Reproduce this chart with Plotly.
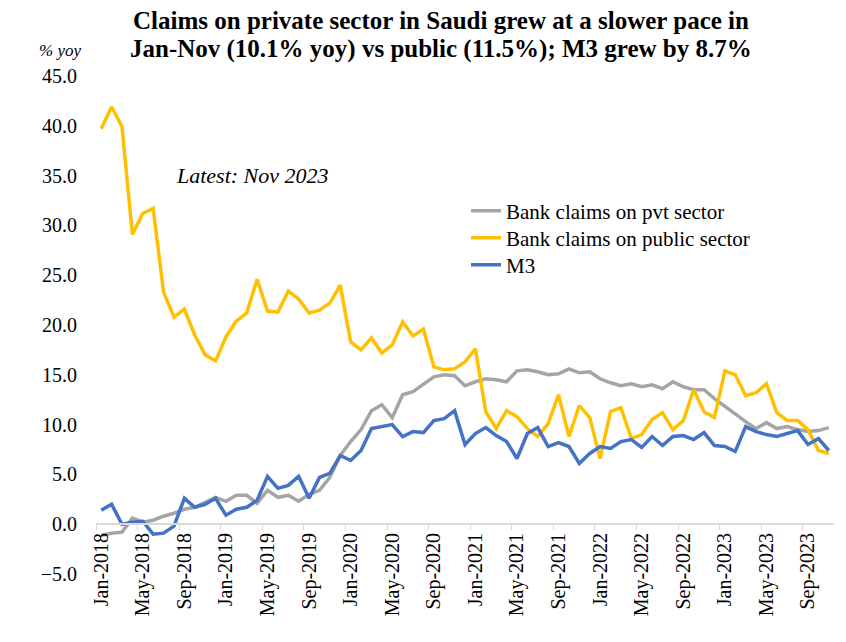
import plotly.graph_objects as go

months = ["Jan", "Feb", "Mar", "Apr", "May", "Jun", "Jul", "Aug", "Sep", "Oct", "Nov", "Dec"]
categories = [f"{m}-{y}" for y in range(2018, 2024) for m in months][:71]

pvt_sector = [
    -1.1, -0.9, -0.8, 0.6, 0.2, 0.4, 0.8, 1.1, 1.5, 1.7, 2.2, 2.7,
    2.3, 2.9, 2.9, 2.1, 3.4, 2.7, 2.9, 2.3, 3.0, 3.4, 4.7, 6.9,
    8.3, 9.5, 11.4, 12.0, 10.7, 13.0, 13.3, 14.1, 14.8, 15.0, 14.9, 13.9,
    14.3, 14.6, 14.5, 14.3, 15.4, 15.5, 15.3, 15.0, 15.1, 15.6, 15.2, 15.3,
    14.6, 14.2, 13.9, 14.1, 13.8, 14.0, 13.6, 14.3, 13.8, 13.5, 13.5, 12.6,
    11.8, 11.0, 10.3, 9.6, 10.2, 9.6, 9.8, 9.5, 9.3, 9.4, 9.7,
]
public_sector = [
    39.7, 41.9, 39.9, 29.1, 31.2, 31.7, 23.3, 20.8, 21.6, 19.0, 17.0, 16.4,
    18.8, 20.4, 21.2, 24.6, 21.4, 21.3, 23.4, 22.6, 21.2, 21.5, 22.2, 24.0,
    18.3, 17.5, 18.7, 17.2, 18.0, 20.3, 18.9, 19.6, 15.8, 15.5, 15.6, 16.3,
    17.6, 11.3, 9.6, 11.4, 10.8, 9.6, 8.8, 10.1, 13.0, 8.8, 11.9, 10.7,
    6.6, 11.3, 11.7, 8.6, 9.0, 10.5, 11.2, 9.5, 10.4, 13.5, 11.3, 10.7,
    15.4, 15.0, 12.9, 13.2, 14.1, 11.2, 10.4, 10.4, 9.5, 7.4, 7.1,
]
m3 = [
    1.4, 2.0, 0.0, 0.2, 0.3, -1.0, -0.9, -0.2, 2.6, 1.7, 2.0, 2.6,
    0.9, 1.5, 1.7, 2.4, 4.8, 3.6, 3.9, 4.8, 2.6, 4.7, 5.1, 6.9,
    6.4, 7.4, 9.6, 9.8, 10.0, 8.8, 9.3, 9.2, 10.4, 10.6, 11.4, 8.0,
    9.1, 9.7, 8.9, 8.3, 6.6, 9.1, 9.7, 7.8, 8.2, 7.8, 6.1, 7.1,
    7.8, 7.6, 8.3, 8.5, 7.7, 8.8, 7.9, 8.8, 8.9, 8.5, 9.2, 7.9,
    7.8, 7.3, 9.8, 9.3, 9.0, 8.8, 9.1, 9.4, 8.0, 8.6, 7.4,
]

series = [
    ("Bank claims on pvt sector", pvt_sector, "#A5A5A5"),
    ("Bank claims on public sector", public_sector, "#FFC000"),
    ("M3", m3, "#4472C4"),
]

title_lines = [
    "Claims on private sector in Saudi grew at a slower pace in",
    "Jan-Nov (10.1% yoy) vs public (11.5%); M3 grew by 8.7%",
]

# screen geometry (page body has an 8px default margin)
OFF = 8
SW, SH = 846, 642
W, H = SW - OFF, SH - OFF
PL, PR, PT, PB = 96, 834, 76, 574          # plot area in screenshot pixels
ML, MR = PL - OFF, W - (PR - OFF)
MT, MB = PT - OFF, H - (PB - OFF)
PW, PH = PR - PL, PB - PT


def px_x(p):
    return (p - PL) / PW


def px_y(p):
    return (PB - p) / PH


SERIF = "Liberation Serif, Times New Roman, serif"
legend_ids = ["legend", "legend2", "legend3"]
legend_rows = [211, 238, 265]

fig = go.Figure()
for (name, vals, color), lid in zip(series, legend_ids):
    fig.add_trace(go.Scatter(
        x=categories, y=vals, name=name, mode="lines",
        line=dict(color=color, width=3.5), legend=lid,
    ))

annotations = [
    dict(text=f"<b>{t}</b>", xref="paper", yref="paper",
         x=px_x(441), y=px_y(yc), xanchor="center", yanchor="middle",
         showarrow=False, font=dict(family=SERIF, size=25, color="black"))
    for t, yc in zip(title_lines, [21, 49])
]
annotations += [
    dict(text="<i>% yoy</i>", xref="paper", yref="paper",
         x=px_x(37), y=px_y(50), xanchor="left", yanchor="middle",
         showarrow=False, font=dict(family=SERIF, size=17)),
    dict(text="<i>Latest: Nov 2023</i>", xref="paper", yref="paper",
         x=px_x(252), y=px_y(175), xanchor="center", yanchor="middle",
         showarrow=False, font=dict(family=SERIF, size=22)),
]

legend_layout = {
    lid: dict(
        x=px_x(466), y=px_y(row), xanchor="left", yanchor="middle",
        font=dict(family=SERIF, size=21), bgcolor="rgba(0,0,0,0)",
    )
    for lid, row in zip(legend_ids, legend_rows)
}

fig.update_layout(
    width=W, height=H,
    margin=dict(l=ML, r=MR, t=MT, b=MB, autoexpand=False),
    paper_bgcolor="white", plot_bgcolor="white",
    font=dict(family=SERIF, color="black", size=18),
    showlegend=True,
    xaxis=dict(
        type="category", range=[-0.5, 70.5],
        tickmode="linear", tick0=0, dtick=4, tickangle=-90,
        tickson="boundaries",
        ticks="outside", ticklen=5, tickcolor="#D9D9D9",
        showline=True, linecolor="#D9D9D9", linewidth=1.5,
        showgrid=False, zeroline=False,
        anchor="free", position=0.1, automargin=False,
        tickfont=dict(family=SERIF, size=20),
    ),
    yaxis=dict(
        range=[-5, 45], dtick=5, tick0=0, tickformat=".1f",
        showgrid=False, zeroline=False, showline=False,
        ticks="", ticklabelstandoff=18, automargin=False,
        tickfont=dict(family=SERIF, size=20),
    ),
    annotations=annotations,
    **legend_layout,
)

fig.write_html("out.html")
